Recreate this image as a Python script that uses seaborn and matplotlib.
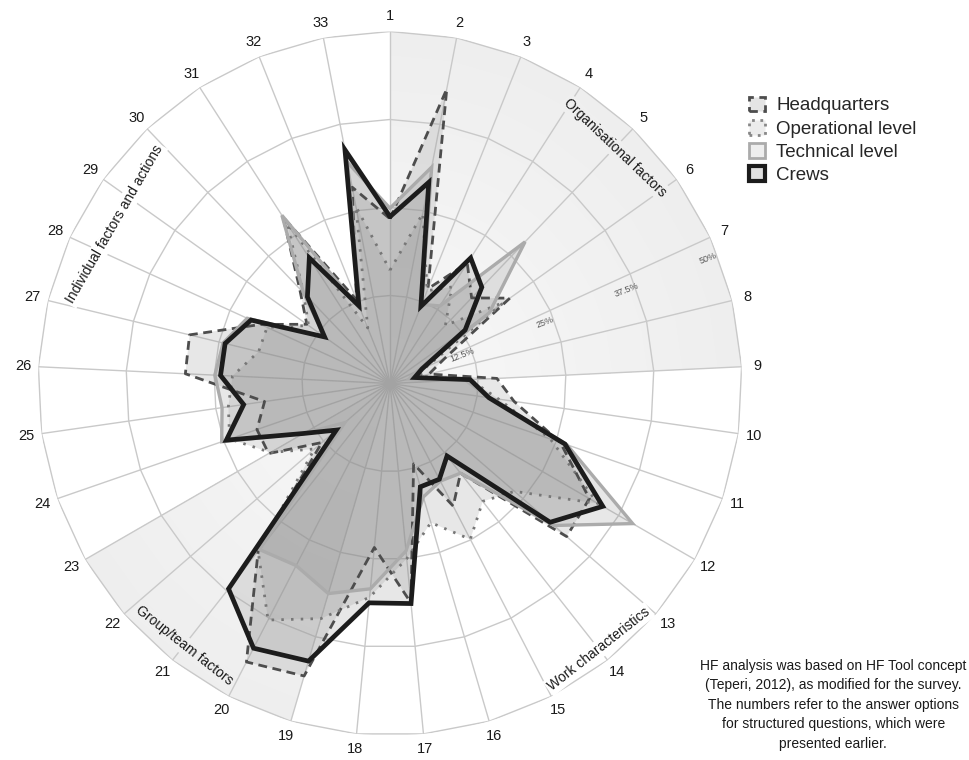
import numpy as np
import matplotlib
matplotlib.use("Agg")
import matplotlib.pyplot as plt
from matplotlib.patches import Patch
import seaborn as sns

# Answer options 1..33 and share of respondents (%) per group
categories = [str(i) for i in range(1, 34)]
headquarters = [23.4, 42.6, 14.5, 20.3, 16.8, 20.9, 8.5, 5.7, 15.2, 17.8, 25.6,
                32.7, 33.2, 16.2, 19.6, 11.9, 31.3, 23.4, 43.3, 44.5, 30.3, 12.8,
                19.9, 20.0, 18.0, 29.1, 29.3, 20.2, 14.5, 18.6, 28.1, 12.8, 28.4]
operational = [16.1, 24.6, 14.2, 16.3, 11.4, 19.9, 5.7, 4.3, 11.4, 15.6, 24.1,
               34.1, 23.4, 21.3, 24.9, 20.6, 25.0, 30.5, 34.8, 37.8, 30.3, 14.2,
               19.6, 24.1, 23.2, 22.4, 19.2, 19.2, 14.2, 17.8, 27.0, 8.5, 25.6]
technical = [24.9, 31.3, 12.1, 13.1, 27.8, 17.3, 4.3, 2.8, 10.7, 14.2, 26.6,
             39.8, 30.8, 16.2, 15.6, 16.8, 23.9, 29.3, 31.1, 29.1, 30.0, 8.5,
             14.2, 25.3, 24.1, 24.9, 24.4, 22.3, 11.4, 17.8, 28.4, 11.4, 32.0]
crews = [23.7, 29.1, 11.8, 21.2, 18.9, 13.1, 5.0, 3.6, 11.4, 14.2, 26.3,
         34.9, 30.1, 13.1, 15.3, 15.3, 31.4, 31.3, 41.1, 42.3, 37.1, 10.1,
         14.2, 24.6, 21.0, 24.1, 24.1, 21.7, 11.4, 17.0, 21.2, 11.9, 33.8]

series_names = ["Headquarters", "Operational level", "Technical level", "Crews"]

radial_ticks = [12.5, 25, 37.5, 50]
radial_tick_labels = ["12.5%", "25%", "37.5%", "50%"]

# HF Tool factor groups: (name, first option, option where the next group starts)
group_names = ["Organisational factors", "Work characteristics",
               "Group/team factors", "Individual factors and actions"]
group_bounds = [(1, 9), (9, 19), (19, 23), (23, 34)]
group_shaded = [True, False, True, False]

note = ("HF analysis was based on HF Tool concept\n"
        "(Teperi, 2012), as modified for the survey.\n"
        "The numbers refer to the answer options\n"
        "for structured questions, which were\n"
        "presented earlier.")

sns.set_theme(style="white")
plt.rcParams["font.family"] = ["Liberation Sans", "DejaVu Sans"]

n = len(categories)
theta = np.linspace(0, 2 * np.pi, n, endpoint=False)
theta_closed = np.append(theta, 2 * np.pi)
rmax = radial_ticks[-1]

fig = plt.figure(figsize=(9.7, 7.6), dpi=100)
ax = fig.add_axes([38 / 970, 24.5 / 760, 704 / 970, 704 / 760], projection="polar")
ax.set_theta_zero_location("N")
ax.set_theta_direction(-1)
ax.set_ylim(0, rmax)
ax.set_xticks([])
ax.set_yticks([])
ax.grid(False)
ax.spines["polar"].set_visible(False)
ax.patch.set_visible(False)

# shaded group sectors with a soft radial gradient
levels = np.linspace(rmax, 0, 30, endpoint=False)
for (a, b), shaded in zip(group_bounds, group_shaded):
    if not shaded:
        continue
    arc = theta_closed[a - 1:b]
    for lv in levels:
        t = lv / rmax
        g = 0.972 - 0.038 * t
        ax.fill(np.concatenate([[arc[0]], arc, [arc[-1]]]),
                np.concatenate([[0], np.full(len(arc), lv), [0]]),
                color=(g, g, g), lw=0, zorder=0)

# polygonal grid
grid_col = "#c9c9c9"
for rt in radial_ticks:
    ax.plot(theta_closed, np.full(n + 1, rt), color=grid_col, lw=1.0, zorder=1)
for th in theta:
    ax.plot([th, th], [0, rmax], color=grid_col, lw=1.0, zorder=1)

# radial tick labels
tick_ang = np.deg2rad(68.5)
for rt, lab in zip(radial_ticks, radial_tick_labels):
    ax.text(tick_ang, rt - 1.4, lab, fontsize=6.5, color="#555555",
            rotation=90 - 68.5, ha="center", va="center", zorder=2)

# option numbers
for th, lab in zip(theta, categories):
    ax.text(th, 52.2, lab, fontsize=10.5, color="#1a1a1a",
            ha="center", va="center")

# group labels, tangential
group_r = [46.3, 48.0, 47.3, 45.2]
for (a, b), name, shaded, rr in zip(group_bounds, group_names, group_shaded, group_r):
    mid = (a - 1 + b - 1) / 2 * 2 * np.pi / n
    deg = np.rad2deg(mid)
    rot = 180 - deg if 90 < deg < 270 else -deg
    ax.text(mid, rr, name, fontsize=10, color="#1a1a1a", rotation=rot,
            rotation_mode="anchor", ha="center", va="center", zorder=1.5,
            bbox=dict(boxstyle="square,pad=0.15", lw=0,
                      fc="#efefef" if shaded else "white"))

# series
styles = [
    dict(color="#4d4d4d", lw=2.0, dashes=(3.2, 2.0)),
    dict(color="#777777", lw=2.0, dashes=(0.9, 2.6)),
    dict(color="#ababab", lw=2.4, dashes=None),
    dict(color="#1c1c1c", lw=3.4, dashes=None),
]
for i, (vals, st) in enumerate(zip([headquarters, operational, technical, crews], styles)):
    v = np.append(vals, vals[0])
    ax.fill(theta_closed, v, color="#8a8a8a", alpha=0.2, lw=0, zorder=2)
    sns.lineplot(x=theta_closed, y=v, sort=False, estimator=None, ax=ax,
                 color=st["color"], lw=st["lw"], zorder=3 + i)
    line = ax.lines[-1]
    line.set_solid_joinstyle("miter")
    if st["dashes"] is not None:
        line.set_dashes(st["dashes"])
        line.set_dash_capstyle("butt")
ax.set_xlabel("")
ax.set_ylabel("")
ax.set_xticks([])
ax.set_yticks([])
ax.set_ylim(0, rmax)
ax.grid(False)

handles = [
    Patch(facecolor="#e4e4e4", edgecolor="#4d4d4d", linestyle=(0, (3, 2)), lw=2),
    Patch(facecolor="#ececec", edgecolor="#888888", linestyle=(0, (1, 2)), lw=2),
    Patch(facecolor="#eeeeee", edgecolor="#ababab", lw=2),
    Patch(facecolor="#e0e0e0", edgecolor="#1c1c1c", lw=3),
]
fig.legend(handles, series_names, loc="upper left", bbox_to_anchor=(0.772, 0.873),
           frameon=False, fontsize=13.5, handlelength=0.85, handleheight=0.85,
           handletextpad=0.6, labelspacing=0.28, borderpad=0, borderaxespad=0)

fig.text(0.859, 0.0724, note, ha="center", va="center", fontsize=10,
         linespacing=1.5, color="#1a1a1a")

fig.savefig("out.png", dpi=100)
